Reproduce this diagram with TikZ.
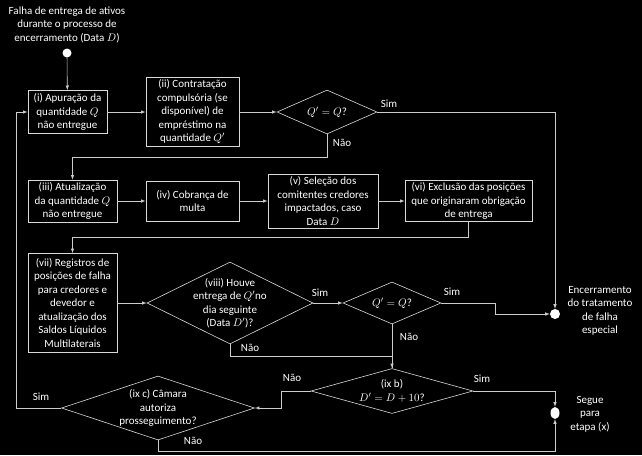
\documentclass[tikz,border=0pt]{standalone}
\usepackage[no-math]{fontspec}
\setmainfont{Carlito}
\usetikzlibrary{shapes.geometric}

\begin{document}
\begin{tikzpicture}[x=1pt, y=-1pt, >=latex,
  every node/.style={text=white, font=\fontsize{11}{13.5}\selectfont, align=center},
  line/.style={draw=white!80!black, line width=0.6pt},
  box/.style={draw=white!85!black, line width=0.8pt, inner sep=1pt},
  decision/.style={diamond, draw=white!85!black, line width=0.6pt, inner sep=0pt},
  dot/.style={circle, fill=white, inner sep=0pt, minimum size=9pt}]
\fill[black] (0,0) rectangle (642,455);

\node (title) at (67,24.5) {Falha de entrega de ativos\\durante o processo de\\encerramento (Data $D$)};
\node[dot] (start) at (67,53) {};

\node[box, minimum width=79pt, minimum height=43pt] (i) at (67.5,112) {(i) Apuração da\\quantidade $Q$\\não entregue};
\node[box, minimum width=93pt, minimum height=69pt] (ii) at (192.5,112) {(ii) Contratação\\compulsória (se\\disponível) de\\empréstimo na\\quantidade $Q'$};
\node[decision, minimum width=100pt, minimum height=44pt, label={center:{$Q' = Q$?}}] (q1) at (327,112) {};

\node[box, minimum width=89pt, minimum height=42pt] (iii) at (72.5,201) {(iii) Atualização\\da quantidade $Q$\\não entregue};
\node[box, minimum width=93pt, minimum height=40pt] (iv) at (192.5,201) {(iv) Cobrança de\\multa};
\node[box, minimum width=110pt, minimum height=54pt] (v) at (323,201) {(v) Seleção dos\\comitentes credores\\impactados, caso\\Data $D$};
\node[box, minimum width=127pt, minimum height=41pt] (vi) at (468.5,201) {(vi) Exclusão das posições\\que originaram obrigação\\de entrega};

\node[box, minimum width=89pt, minimum height=99pt] (vii) at (72.5,303) {(vii) Registros de\\posições de falha\\para credores e\\devedor e\\atualização dos\\Saldos Líquidos\\Multilaterais};
\node[decision, minimum width=166pt, minimum height=82pt, label={center:{(viii) Houve\\entrega de $Q'$no\\dia seguinte\\(Data $D'$)?}}] (viii) at (230,303) {};
\node[decision, minimum width=98pt, minimum height=42pt, label={center:{$Q' = Q$?}}] (q2) at (392,303) {};
\node[dot, minimum size=10pt] (end1) at (555,314) {};
\node (endtext) at (600,311) {Encerramento\\do tratamento\\de falha\\especial};

\node[decision, minimum width=162pt, minimum height=45pt, label={center:{(ix b)\\$D' = D + 10$?}}] (ixb) at (392,391) {};
\node[decision, minimum width=193pt, minimum height=64pt, label={center:{(ix c) Câmara\\autoriza\\prosseguimento?}}] (ixc) at (158,408) {};
\node[ellipse, fill=white, inner sep=0pt, minimum width=9pt, minimum height=12pt] (end2) at (555,413) {};
\node (segtext) at (590,414) {Segue\\para\\etapa (x)};

% setas
\draw[line, ->] (start) -- (i);
\draw[line, ->] (i) -- (ii);
\draw[line, ->] (ii) -- (q1);
\draw[line, ->] (q1.east) -| (end1.north);
\draw[line, ->] (q1.south) -- ++(0,23) -| (iii.north);
\draw[line, ->] (iii) -- (iv);
\draw[line, ->] (iv) -- (v);
\draw[line, ->] (v) -- (vi);
\draw[line, ->] (vi.south) -- ++(0,15) -| (vii.north);
\draw[line, ->] (vii) -- (viii);
\draw[line, ->] (viii.east) -- (q2.west);
\draw[line, ->] (q2.east) -- ++(54,0) |- (end1.west);
\draw[line] (viii.south) -- ++(0,12) -| (ixb.north);
\draw[line, ->] (q2.south) -- (ixb.north);
\draw[line, ->] (ixb.west) -- ++(-29,0) |- (ixc.east);
\draw[line, ->] (ixb.east) -| (end2.north);
\draw[line, ->] (ixc.west) -- ++(-45,0) |- (i.west);
\draw[line, ->] (ixc.south) -- ++(0,11) -| (end2.south);

% rotulos
\node (sim1) at (389,104) {Sim};
\node (nao1) at (342,143) {Não};
\node (sim2) at (320,293) {Sim};
\node (nao2) at (250,348) {Não};
\node (sim3) at (452,292) {Sim};
\node (nao3) at (409,337) {Não};
\node (nao4) at (292,378) {Não};
\node (sim4) at (482,379) {Sim};
\node (sim5) at (41,397) {Sim};
\node (nao5) at (193,441) {Não};

\end{tikzpicture}
\end{document}
